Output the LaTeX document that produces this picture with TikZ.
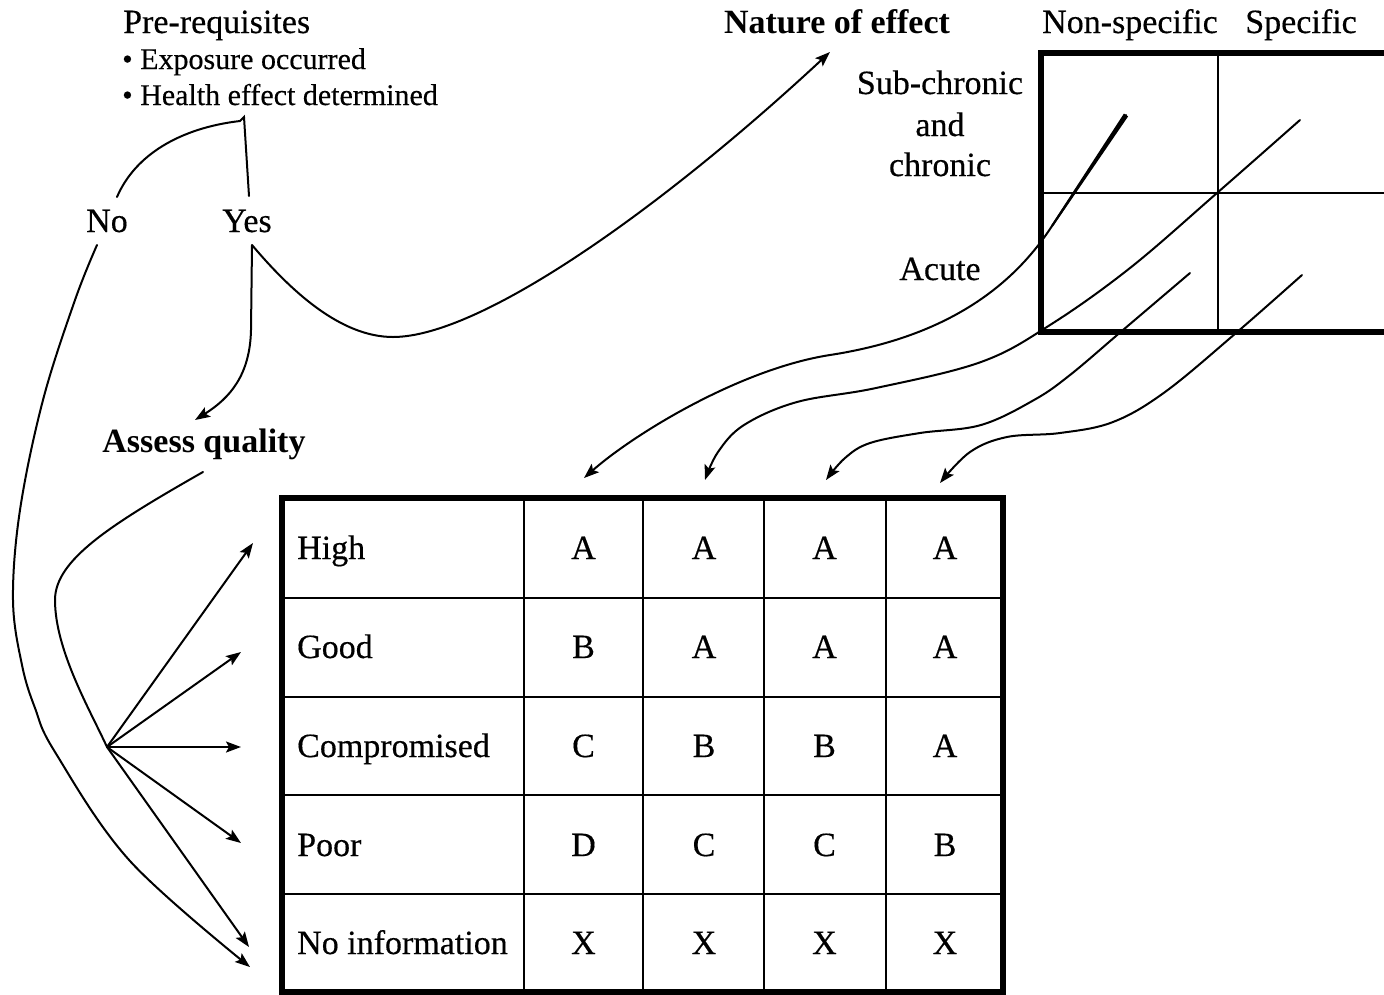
\documentclass[tikz,border=0pt]{standalone}
\usepackage{fontspec}
\setmainfont{Liberation Serif}[UprightFeatures={FakeBold=0.4}]
\usetikzlibrary{arrows.meta}
\begin{document}
\begin{tikzpicture}[x=1pt,y=-1pt,
  txt/.style={inner sep=0pt, font=\fontsize{34}{40}\selectfont},
  btxt/.style={inner sep=0pt, font=\fontsize{34}{40}\selectfont\bfseries},
  stxt/.style={inner sep=0pt, font=\fontsize{30}{36}\selectfont},
  link/.style={line width=2pt, line cap=round},
  arrowlink/.style={link, -{Stealth[length=15pt,width=11pt,inset=3pt]}},
  rule/.style={line width=1.8pt},
  frame/.style={line width=6pt}]
\useasboundingbox (0,0) rectangle (1384,994);

% ---------- headings ----------
\node[txt, anchor=base west] (prereq) at (123,33) {Pre-requisites};
\node[stxt, anchor=base west] (exposure) at (122,69) {• Exposure occurred};
\node[stxt, anchor=base west] (health) at (122,105) {• Health effect determined};
\node[txt, anchor=base] (no) at (107,232) {No};
\node[txt, anchor=base] (yes) at (247,232) {Yes};
\node[btxt, anchor=base] (nature) at (837,33) {Nature of effect};
\node[txt, anchor=base] (nonspec) at (1130,33) {Non-specific};
\node[txt, anchor=base] (spec) at (1301,33) {Specific};
\node[txt, anchor=base] (subchr) at (940,94) {Sub-chronic};
\node[txt, anchor=base] (and) at (940,136) {and};
\node[txt, anchor=base] (chronic) at (940,176) {chronic};
\node[txt, anchor=base] (acute) at (940,280) {Acute};
\node[btxt, anchor=base] (assess) at (204,452) {Assess quality};

% ---------- nature-of-effect grid ----------
\begin{scope}
  \clip (0,0) rectangle (1384,994);
  \draw[rule] (1218,53) -- (1218,332);
  \draw[rule] (1041,193) -- (1400,193);
  \draw[frame] (1400,53) -| (1041,332) -- (1400,332);
\end{scope}

% ---------- quality / grade table ----------
\foreach \y in {598,697,795,894} \draw[rule] (282,\y) -- (1003,\y);
\foreach \x in {524,643,764,886} \draw[rule] (\x,498) -- (\x,992);
\draw[frame] (282,498) rectangle (1003,992);

\foreach \lab/\yy [count=\r] in {High/548, Good/647, Compromised/746, Poor/845, No information/943}
  \node[txt, anchor=base west] (row\r) at (297,\yy+11) {\lab};

\foreach \grades/\yy [count=\r] in {{A,A,A,A}/548, {B,A,A,A}/647, {C,B,B,A}/746, {D,C,C,B}/845, {X,X,X,X}/943}
  \foreach \g [count=\c] in \grades
    \node[txt, anchor=base] (g-\r-\c) at ({463+120.5*\c},\yy+11) {\g};

% ---------- connector end points ----------
\coordinate (fork) at (244,117);
\coordinate (noTop) at (117,197);
\coordinate (yesTop) at (249,196);
\coordinate (noFoot) at (97,245);
\coordinate (yesFoot) at (252,245);
\coordinate (natureTip) at (830,52);
\coordinate (assessTip) at (195,420);
\coordinate (assessFoot) at (203,472);
\coordinate (fan) at (107,747);
\coordinate (tipHigh) at (253,543);
\coordinate (tipGood) at (241,652);
\coordinate (tipComp) at (241,747);
\coordinate (tipPoor) at (241,843);
\coordinate (tipNone) at (249,947);
\coordinate (tipNoPath) at (250,967);
\coordinate (startA) at (1126,115);
\coordinate (startB) at (1300,120);
\coordinate (startC) at (1190,273);
\coordinate (startD) at (1302,275);
\coordinate (colA) at (584,478);
\coordinate (colB) at (705,480);
\coordinate (colC) at (826,480);
\coordinate (colD) at (940,483);

% ---------- decision branches ----------
\draw[link] (noTop) .. controls (135,155) and (180,128) .. (240,121) -- (fork) -- (yesTop);
\draw[arrowlink] (yesFoot) .. controls (290,290) and (340,337) .. (393,337)
  .. controls (480,337) and (660,210) .. (natureTip);
\draw[arrowlink] (yesFoot) -- (251,330) .. controls (250,375) and (230,398) .. (assessTip);
\draw[arrowlink] plot[smooth, tension=0.6] coordinates
  {(noFoot) (75,300) (43,400) (20,510) (13,600) (22,665) (35,708) (55,752) (130,861) (tipNoPath)};
\draw[link] (assessFoot) .. controls (110,525) and (55,560) .. (55,600)
  .. controls (55,650) and (90,710) .. (fan);
\foreach \t in {High,Good,Comp,Poor,None}
  \draw[arrowlink] (fan) -- (tip\t);

% ---------- grid cells to table columns ----------
\fill (1128.1,116.4) -- (1123.9,113.6) -- (1051.2,225.4) -- (1052.8,226.6) -- cycle;
\draw[arrowlink] (startA) -- (1052,226) .. controls (1020,275) and (960,335) .. (830,355)
  .. controls (740,369) and (634,434) .. (colA);
\draw[arrowlink] plot[smooth, tension=0.6] coordinates
  {(startB) (1217,193) (1130,268) (1050,325) (981,362) (876,388) (797,402) (744,425) (718,452) (colB)};
\draw[arrowlink] plot[smooth, tension=0.6] coordinates
  {(startC) (1123,330) (1070,375) (1034,400) (981,425) (920,433) (870,443) (845,458) (colC)};
\draw[arrowlink] plot[smooth, tension=0.6] coordinates
  {(startD) (1236,333) (1165,392) (1113,422) (1060,433) (1007,437) (970,452) (colD)};
\end{tikzpicture}
\end{document}
